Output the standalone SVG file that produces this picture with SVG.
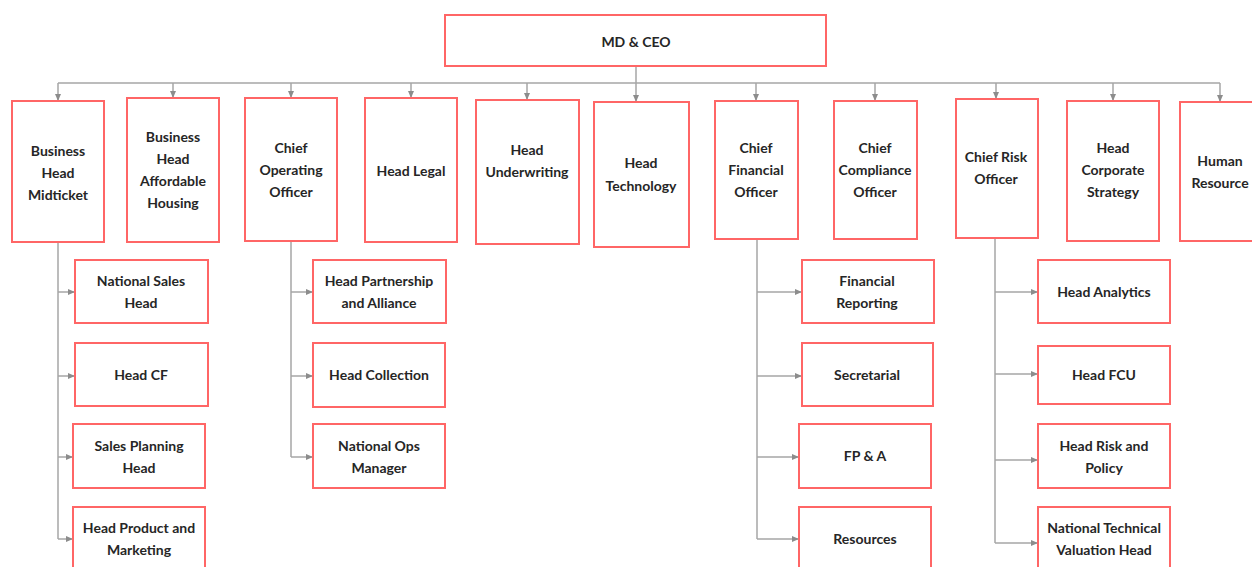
<svg xmlns="http://www.w3.org/2000/svg" width="1252" height="567" viewBox="0 0 1252 567">
<style>
.box{fill:#fff;stroke:#ff6666;stroke-width:2}
.t{font-family:Lato,"Liberation Sans",sans-serif;font-weight:bold;font-size:14px;fill:#262626;text-anchor:middle}
.c{fill:none;stroke:#a6a6a6;stroke-width:1.5}
</style>
<defs>
<marker id="a" markerUnits="userSpaceOnUse" markerWidth="8" markerHeight="8" refX="7" refY="4" orient="auto">
<path d="M0,1 L7,4 L0,7 Z" fill="#8c8c8c"/>
</marker>
</defs>
<rect width="1252" height="567" fill="#fff"/>
<g id="connectors">
<path class="c" d="M636,66 V83 M58,83 H1220"/>
<path class="c" marker-end="url(#a)" d="M58,83 V101"/>
<path class="c" marker-end="url(#a)" d="M173,83 V98"/>
<path class="c" marker-end="url(#a)" d="M291,83 V98"/>
<path class="c" marker-end="url(#a)" d="M411,83 V98"/>
<path class="c" marker-end="url(#a)" d="M527,83 V100"/>
<path class="c" marker-end="url(#a)" d="M636,83 V102"/>
<path class="c" marker-end="url(#a)" d="M756,83 V101"/>
<path class="c" marker-end="url(#a)" d="M875,83 V101"/>
<path class="c" marker-end="url(#a)" d="M996,83 V99"/>
<path class="c" marker-end="url(#a)" d="M1113,83 V101"/>
<path class="c" marker-end="url(#a)" d="M1220,83 V102"/>
<path class="c" d="M58,242 V539"/>
<path class="c" marker-end="url(#a)" d="M58,292 H75"/>
<path class="c" marker-end="url(#a)" d="M58,376 H75"/>
<path class="c" marker-end="url(#a)" d="M58,457 H73"/>
<path class="c" marker-end="url(#a)" d="M58,539 H73"/>
<path class="c" d="M291,241 V457"/>
<path class="c" marker-end="url(#a)" d="M291,292 H313"/>
<path class="c" marker-end="url(#a)" d="M291,376 H313"/>
<path class="c" marker-end="url(#a)" d="M291,457 H313"/>
<path class="c" d="M757,239 V539"/>
<path class="c" marker-end="url(#a)" d="M757,292 H802"/>
<path class="c" marker-end="url(#a)" d="M757,376 H802"/>
<path class="c" marker-end="url(#a)" d="M757,457 H799"/>
<path class="c" marker-end="url(#a)" d="M757,539 H799"/>
<path class="c" d="M995,238 V543"/>
<path class="c" marker-end="url(#a)" d="M995,292 H1038"/>
<path class="c" marker-end="url(#a)" d="M995,374 H1038"/>
<path class="c" marker-end="url(#a)" d="M995,460 H1038"/>
<path class="c" marker-end="url(#a)" d="M995,543 H1038"/>
</g>
<g id="ceo"><rect class="box" x="445" y="15" width="381" height="51"/><text class="t" x="636" y="47" font-size="16">MD &amp; CEO</text></g>
<g id="midticket"><rect class="box" x="12" y="101" width="92" height="141"/><text class="t" x="58" y="156">Business<tspan x="58" dy="22">Head</tspan><tspan x="58" dy="22">Midticket</tspan></text></g>
<g id="affordable"><rect class="box" x="127" y="98" width="92" height="144"/><text class="t" x="173" y="142">Business<tspan x="173" dy="22">Head</tspan><tspan x="173" dy="22">Affordable</tspan><tspan x="173" dy="22">Housing</tspan></text></g>
<g id="coo"><rect class="box" x="245" y="98" width="92" height="143"/><text class="t" x="291" y="153">Chief<tspan x="291" dy="22">Operating</tspan><tspan x="291" dy="22">Officer</tspan></text></g>
<g id="legal"><rect class="box" x="365" y="98" width="92" height="144"/><text class="t" x="411" y="176">Head Legal</text></g>
<g id="underwriting"><rect class="box" x="476" y="100" width="103" height="144"/><text class="t" x="527" y="155">Head<tspan x="527" dy="22">Underwriting</tspan></text></g>
<g id="technology"><rect class="box" x="594" y="102" width="95" height="145"/><text class="t" x="641" y="168">Head<tspan x="641" dy="23">Technology</tspan></text></g>
<g id="cfo"><rect class="box" x="715" y="101" width="83" height="138"/><text class="t" x="756" y="153">Chief<tspan x="756" dy="22">Financial</tspan><tspan x="756" dy="22">Officer</tspan></text></g>
<g id="cco"><rect class="box" x="834" y="101" width="83" height="138"/><text class="t" x="875" y="153">Chief<tspan x="875" dy="22">Compliance</tspan><tspan x="875" dy="22">Officer</tspan></text></g>
<g id="cro"><rect class="box" x="956" y="99" width="82" height="139"/><text class="t" x="996" y="162">Chief Risk<tspan x="996" dy="22">Officer</tspan></text></g>
<g id="strategy"><rect class="box" x="1067" y="101" width="92" height="140"/><text class="t" x="1113" y="153">Head<tspan x="1113" dy="22">Corporate</tspan><tspan x="1113" dy="22">Strategy</tspan></text></g>
<g id="hr"><rect class="box" x="1180" y="102" width="80" height="139"/><text class="t" x="1220" y="166">Human<tspan x="1220" dy="22">Resource</tspan></text></g>
<g id="national-sales"><rect class="box" x="75" y="260" width="133" height="63"/><text class="t" x="141" y="286">National Sales<tspan x="141" dy="22">Head</tspan></text></g>
<g id="head-cf"><rect class="box" x="75" y="343" width="133" height="63"/><text class="t" x="141" y="380">Head CF</text></g>
<g id="sales-planning"><rect class="box" x="73" y="424" width="132" height="64"/><text class="t" x="139" y="451">Sales Planning<tspan x="139" dy="22">Head</tspan></text></g>
<g id="product-marketing"><rect class="box" x="73" y="507" width="132" height="66"/><text class="t" x="139" y="533">Head Product and<tspan x="139" dy="22">Marketing</tspan></text></g>
<g id="partnership"><rect class="box" x="313" y="260" width="133" height="63"/><text class="t" x="379" y="286">Head Partnership<tspan x="379" dy="22">and Alliance</tspan></text></g>
<g id="collection"><rect class="box" x="313" y="343" width="132" height="64"/><text class="t" x="379" y="380">Head Collection</text></g>
<g id="national-ops"><rect class="box" x="313" y="424" width="132" height="64"/><text class="t" x="379" y="451">National Ops<tspan x="379" dy="22">Manager</tspan></text></g>
<g id="fin-reporting"><rect class="box" x="802" y="260" width="132" height="63"/><text class="t" x="867" y="286">Financial<tspan x="867" dy="22">Reporting</tspan></text></g>
<g id="secretarial"><rect class="box" x="802" y="343" width="131" height="63"/><text class="t" x="867" y="380">Secretarial</text></g>
<g id="fpa"><rect class="box" x="799" y="424" width="132" height="64"/><text class="t" x="865" y="461">FP &amp; A</text></g>
<g id="resources"><rect class="box" x="799" y="507" width="132" height="66"/><text class="t" x="865" y="544">Resources</text></g>
<g id="analytics"><rect class="box" x="1038" y="260" width="132" height="63"/><text class="t" x="1104" y="297">Head Analytics</text></g>
<g id="fcu"><rect class="box" x="1038" y="346" width="132" height="58"/><text class="t" x="1104" y="380">Head FCU</text></g>
<g id="risk-policy"><rect class="box" x="1038" y="424" width="132" height="64"/><text class="t" x="1104" y="451">Head Risk and<tspan x="1104" dy="22">Policy</tspan></text></g>
<g id="ntvh"><rect class="box" x="1038" y="507" width="132" height="66"/><text class="t" x="1104" y="533">National Technical<tspan x="1104" dy="22">Valuation Head</tspan></text></g>
</svg>
